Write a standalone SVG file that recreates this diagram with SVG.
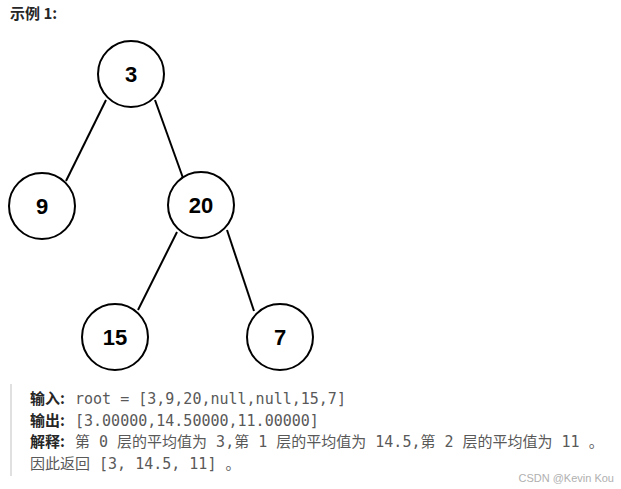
<svg xmlns="http://www.w3.org/2000/svg" width="621" height="489" viewBox="0 0 621 489">
<style>
.node circle{fill:#fff;stroke:#000;stroke-width:2}
.node text{font-family:"Liberation Sans",Arial,sans-serif;font-weight:bold;font-size:22px;text-anchor:middle;fill:#000}
.edges line{stroke:#000;stroke-width:2}
.lbl{font-family:"Noto Sans CJK SC","DejaVu Sans",sans-serif;font-weight:bold;font-size:15px;fill:#262626}
.mono{font-family:"DejaVu Sans Mono","Noto Sans CJK SC",monospace;font-size:15px;fill:#595959;white-space:pre}
</style>
<rect width="621" height="489" fill="#fff"/>
<text x="10" y="19" class="lbl">示例 1:</text>
<g class="edges" id="connectors">
<line x1="106" y1="100" x2="66" y2="181"/>
<line x1="155" y1="100" x2="183" y2="178"/>
<line x1="177" y1="232" x2="138" y2="310"/>
<line x1="227" y1="230" x2="254" y2="311"/>
</g>
<g class="node" id="n3"><circle cx="131" cy="74" r="33"/><text x="131" y="82">3</text></g>
<g class="node" id="n9"><circle cx="42" cy="206" r="33"/><text x="42" y="214">9</text></g>
<g class="node" id="n20"><circle cx="201" cy="205" r="33"/><text x="201" y="213">20</text></g>
<g class="node" id="n15"><circle cx="115" cy="337" r="33"/><text x="115" y="345">15</text></g>
<g class="node" id="n7"><circle cx="280" cy="337" r="33"/><text x="280" y="345">7</text></g>
<rect x="10" y="384" width="2" height="92" fill="#e0e0e0"/>
<text x="30" y="404" class="lbl">输入:</text>
<text x="75" y="404" class="mono">root = [3,9,20,null,null,15,7]</text>
<text x="30" y="425.5" class="lbl">输出:</text>
<text x="75" y="425.5" class="mono">[3.00000,14.50000,11.00000]</text>
<text x="30" y="447" class="lbl">解释:</text>
<text x="75" y="447" class="mono">第 0 层的平均值为 3,第 1 层的平均值为 14.5,第 2 层的平均值为 11 。</text>
<text x="30" y="468.5" class="mono">因此返回 [3, 14.5, 11] 。</text>
<text x="614" y="482" style="font-family:'Liberation Sans',Arial,sans-serif;font-size:11px;fill:#b0b0b0;text-anchor:end">CSDN @Kevin Kou</text>
</svg>
